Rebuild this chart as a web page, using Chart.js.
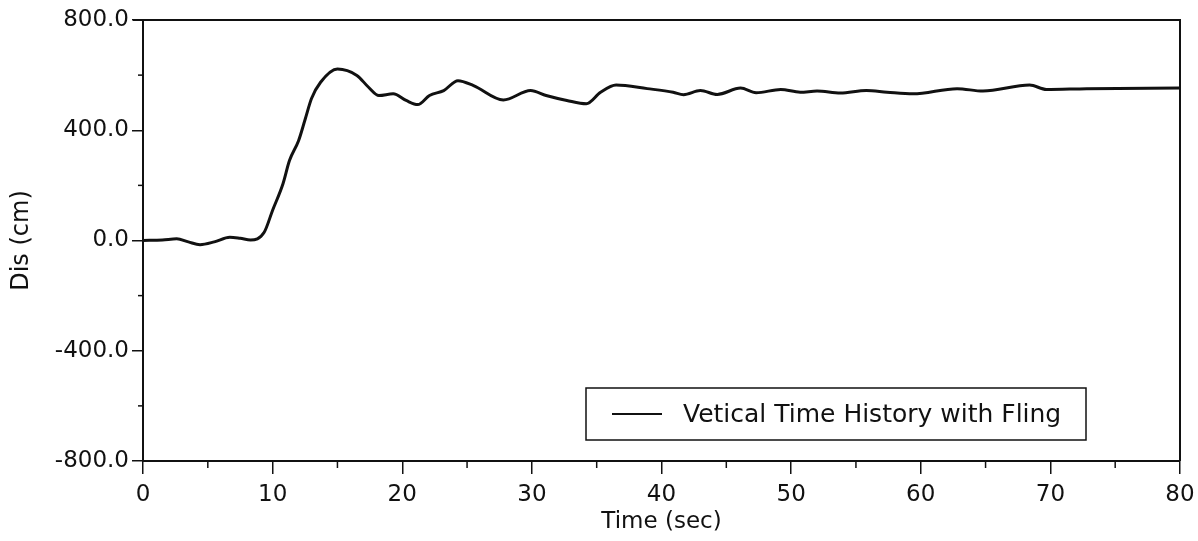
<!DOCTYPE html>
<html>
<head>
<meta charset="utf-8">
<script src="https://cdn.jsdelivr.net/npm/chart.js@4/dist/chart.umd.min.js"></script>
<style>
  html, body { margin: 0; padding: 0; background: #fff; }
  #wrap { width: 1198px; height: 541px; }
</style>
</head>
<body>
<div id="wrap"><canvas id="disChart"></canvas></div>
<script>
// time (sec) and displacement (cm)
const timeSec = [0, 1.5, 2.6, 3.5, 4.4, 5.5, 6.7, 7.5, 8.3, 9.35, 10.0, 10.8, 11.3, 12.0, 12.5, 13.0,
  13.7, 15.0, 16.5, 17.4, 18.2, 19.3, 20.3, 21.2, 22.1, 23.2, 24.3, 25.5, 27.8, 29.9, 31.1,
  32.7, 34.2, 35.3, 36.5, 38.9, 40.9, 41.7, 43.0, 44.3, 46.1, 47.3, 49.2, 50.7, 52.0, 53.8,
  55.8, 57.4, 59.4, 62.8, 64.8, 68.4, 69.7, 72.8, 80];
const disCm = [0, 2, 6, -5, -15, -5, 12, 8, 2, 30, 110, 206, 290, 362, 438, 515,
  574, 622, 599, 556, 526, 532, 508, 493, 526, 544, 580, 562, 510, 544, 526,
  508, 496, 538, 564, 551, 538, 529, 544, 530, 553, 536, 548, 538, 542, 535,
  544, 538, 532, 551, 542, 564, 548, 551, 553];
const xTicks = [0, 10, 20, 30, 40, 50, 60, 70, 80];
const xMinorTicks = [5, 15, 25, 35, 45, 55, 65, 75];
const yTicks = [-800, -400, 0, 400, 800];
const yMinorTicks = [-600, -200, 200, 600];
const seriesLabel = 'Vetical Time History with Fling';

const FONT = '"DejaVu Sans", Arial, sans-serif';
const INK = '#111';

// frame on top/right, minor ticks and the boxed legend
const extras = {
  id: 'extras',
  afterDraw(chart) {
    const { ctx, chartArea: a, scales } = chart;
    ctx.save();
    ctx.strokeStyle = INK;
    ctx.lineWidth = 2;
    ctx.beginPath();
    ctx.moveTo(a.left - 10, a.top);
    ctx.lineTo(a.right, a.top);
    ctx.lineTo(a.right, a.bottom);
    ctx.stroke();

    ctx.lineWidth = 1.5;
    xMinorTicks.forEach(v => {
      const px = scales.x.getPixelForValue(v);
      ctx.beginPath();
      ctx.moveTo(px, a.bottom);
      ctx.lineTo(px, a.bottom + 7);
      ctx.stroke();
    });
    yMinorTicks.forEach(v => {
      const py = scales.y.getPixelForValue(v);
      ctx.beginPath();
      ctx.moveTo(a.left, py);
      ctx.lineTo(a.left - 5, py);
      ctx.stroke();
    });

    // legend box
    const bx = 586, by = 388, bw = 500, bh = 52;
    ctx.lineWidth = 1.5;
    ctx.strokeRect(bx, by, bw, bh);
    ctx.lineWidth = 2;
    ctx.beginPath();
    ctx.moveTo(bx + 26, by + bh / 2);
    ctx.lineTo(bx + 76, by + bh / 2);
    ctx.stroke();
    ctx.fillStyle = INK;
    ctx.font = '25px ' + FONT;
    ctx.textBaseline = 'middle';
    ctx.fillText(chart.data.datasets[0].label, bx + 97, by + bh / 2 + 1);
    ctx.restore();
  }
};

new Chart(document.getElementById('disChart').getContext('2d'), {
  type: 'line',
  data: {
    datasets: [{
      label: seriesLabel,
      data: timeSec.map((t, i) => ({ x: t, y: disCm[i] })),
      borderColor: INK,
      borderWidth: 3,
      pointRadius: 0,
      fill: false,
      cubicInterpolationMode: 'monotone'
    }]
  },
  options: {
    responsive: true,
    maintainAspectRatio: false,
    animation: false,
    layout: { padding: { left: 0, top: 20, right: 18, bottom: 0 } },
    plugins: { legend: { display: false }, tooltip: { enabled: false } },
    scales: {
      x: {
        type: 'linear',
        min: 0,
        max: 80,
        afterBuildTicks: s => { s.ticks = xTicks.map(v => ({ value: v })); },
        afterFit: s => { s.height = 80; s.paddingRight = 0; s.paddingLeft = 0; },
        ticks: {
          color: INK,
          font: { family: FONT, size: 23 },
          padding: 7,
          maxRotation: 0,
          callback: v => String(v)
        },
        grid: { drawOnChartArea: false, drawTicks: true, tickLength: 13, color: INK, lineWidth: 1.5 },
        border: { display: true, color: INK, width: 2 },
        title: {
          display: true,
          text: 'Time (sec)',
          color: INK,
          font: { family: FONT, size: 23 },
          padding: { top: 0, bottom: 5 }
        }
      },
      y: {
        min: -800,
        max: 800,
        afterBuildTicks: s => { s.ticks = yTicks.map(v => ({ value: v })); },
        afterFit: s => { s.width = 143; },
        ticks: {
          color: INK,
          font: { family: FONT, size: 23 },
          padding: 3,
          callback: v => v.toFixed(1)
        },
        grid: { drawOnChartArea: false, drawTicks: true, tickLength: 11, color: INK, lineWidth: 1.5 },
        border: { display: true, color: INK, width: 2 },
        title: {
          display: true,
          text: 'Dis (cm)',
          color: INK,
          font: { family: FONT, size: 24 },
          padding: { top: 7, bottom: 0 }
        }
      }
    }
  },
  plugins: [extras]
});
</script>
</body>
</html>
